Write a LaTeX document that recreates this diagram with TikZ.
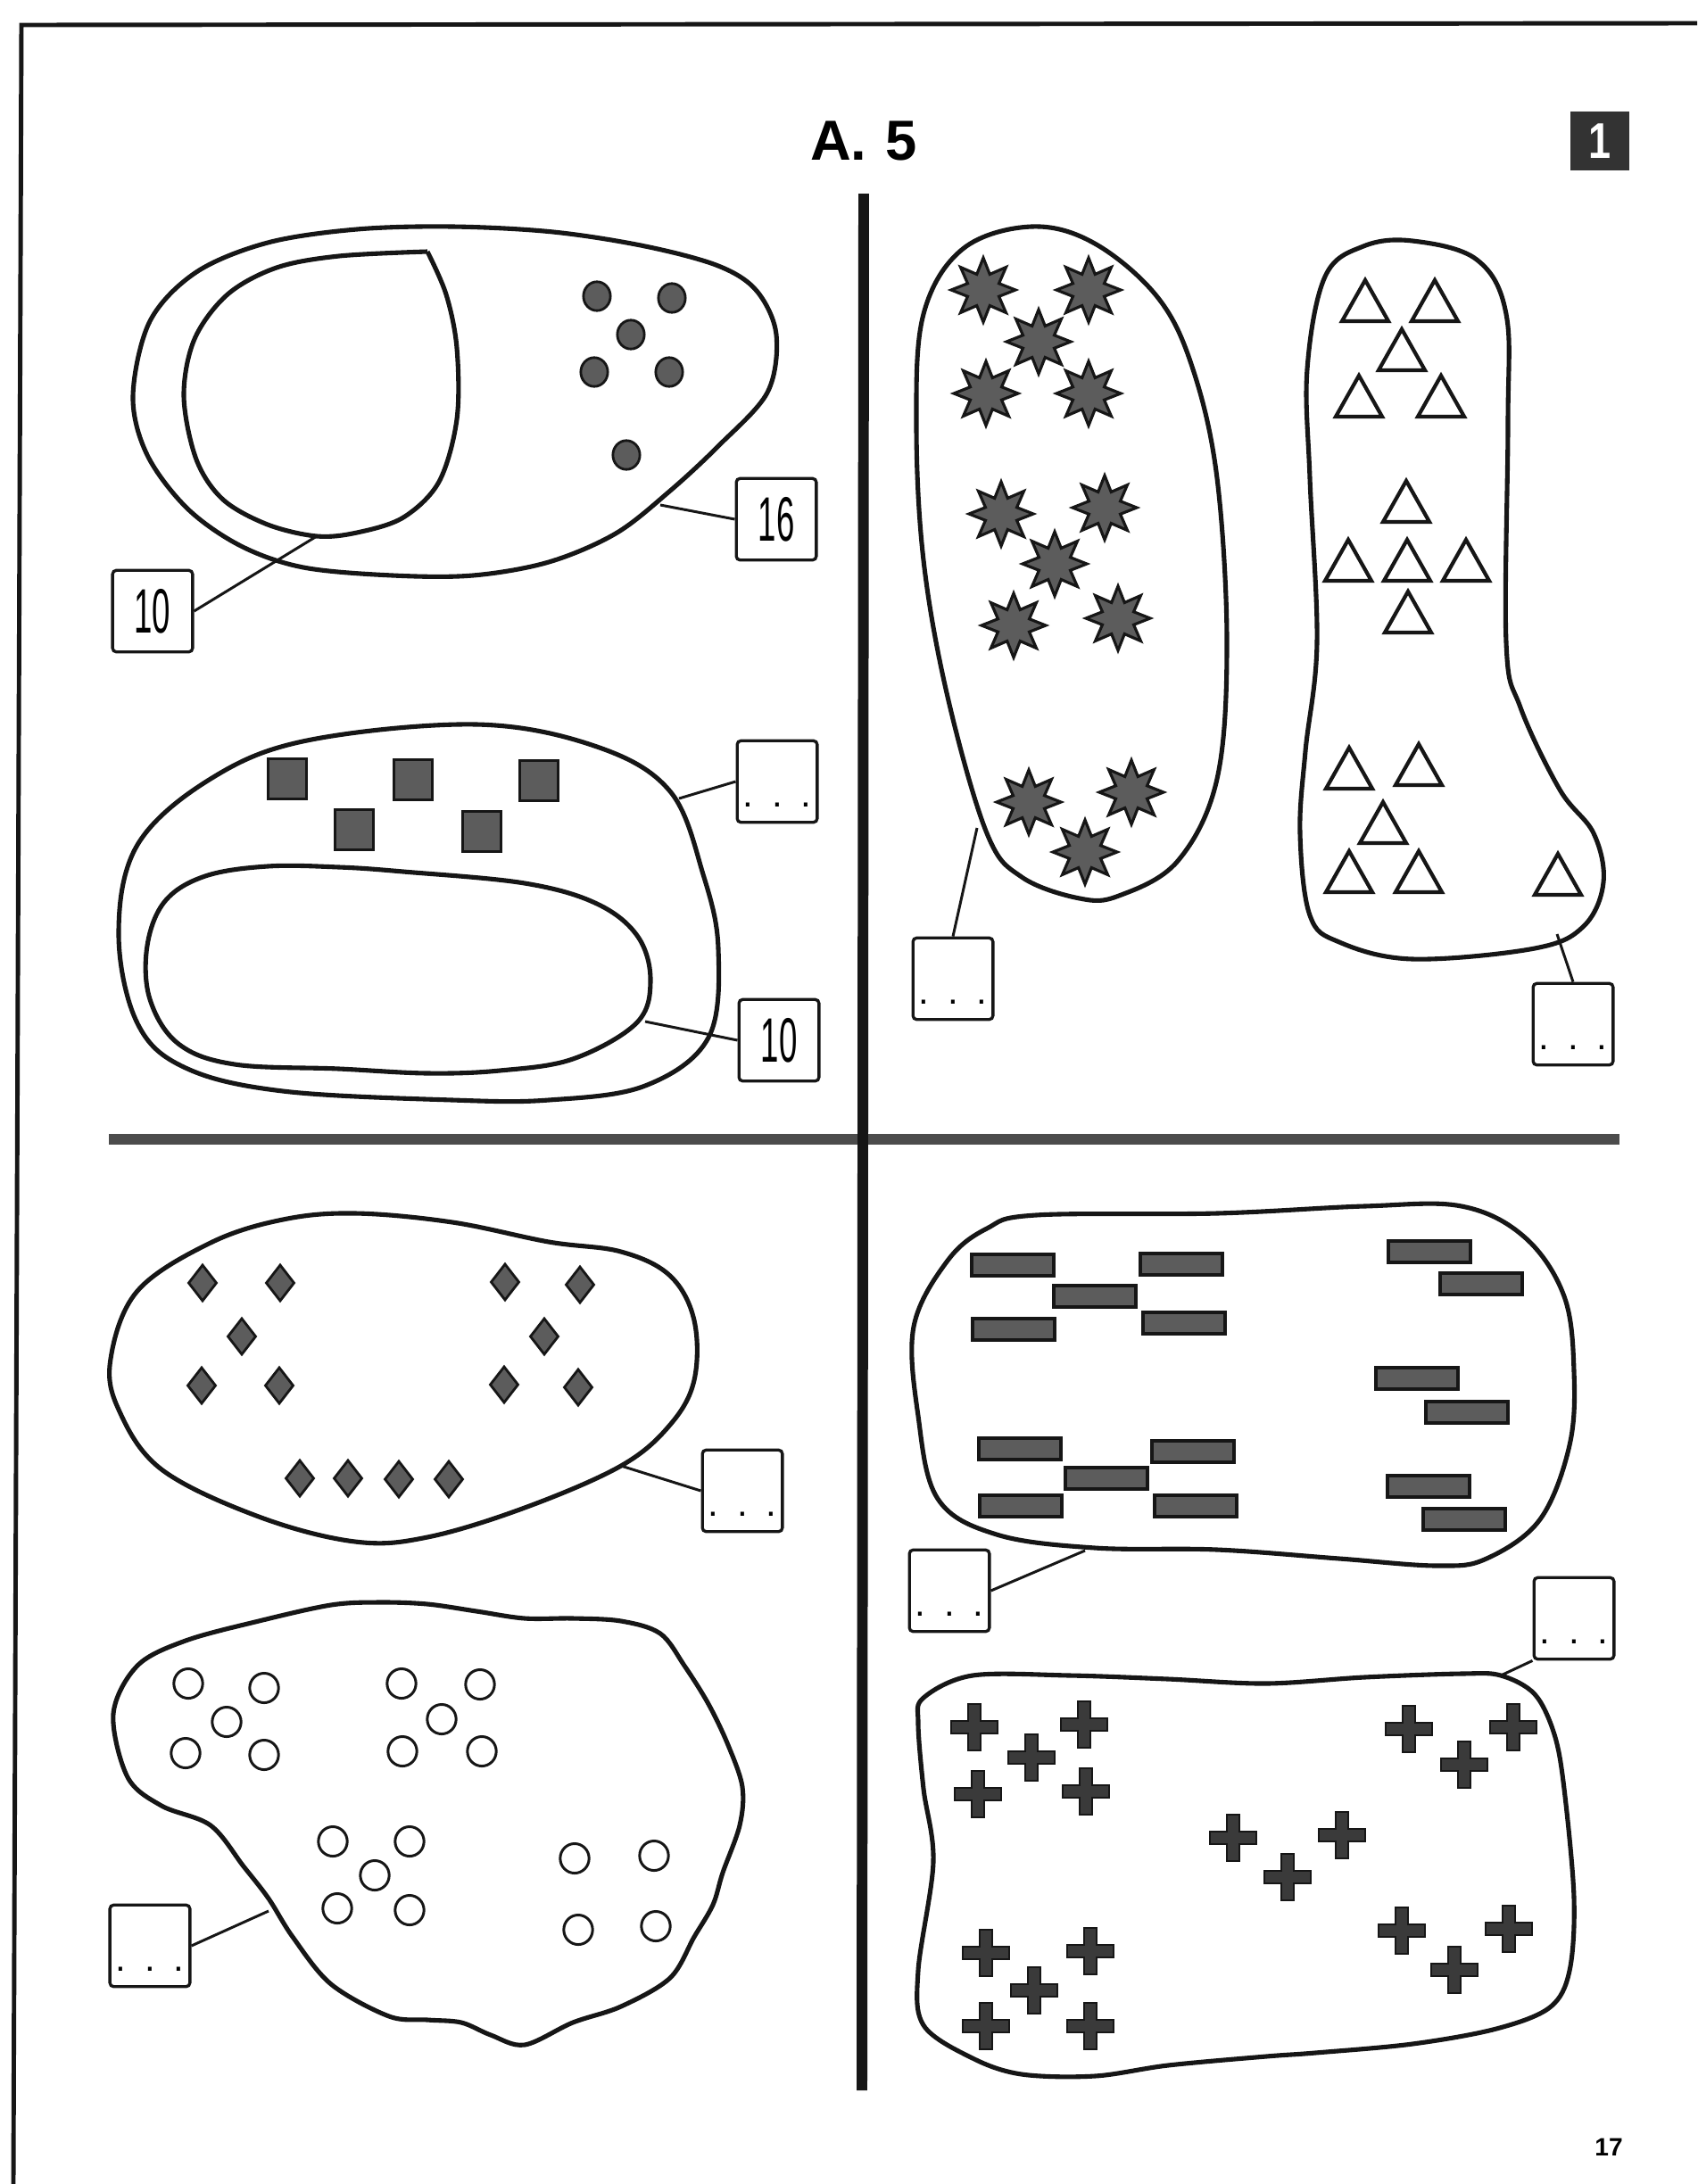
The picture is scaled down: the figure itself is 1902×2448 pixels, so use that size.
\documentclass[tikz,border=0pt]{standalone}
\usepackage{fontspec}
\setmainfont{Liberation Sans}
\usepackage{graphicx}
\definecolor{ink}{RGB}{22,22,22}
\definecolor{shade}{RGB}{92,92,92}
\definecolor{darkshade}{RGB}{58,58,58}
\tikzset{
  blob/.style={draw=ink,line width=1.45pt,line join=round},
  ansbox/.style={draw=ink,line width=0.95pt,rounded corners=1.2pt,minimum width=25.5pt,minimum height=26pt,inner sep=0pt},
  dotsbox/.style={ansbox,font=\fontsize{12}{12}\selectfont,text height=16pt,text depth=0pt},
  leader/.style={draw=ink,line width=0.85pt},
  star8/.pic={\draw[fill=shade,draw=ink,line width=0.9pt,line join=miter] (0:36) \foreach \a in {0,45,...,315}{ -- (\a:36) -- ({\a+22.5}:19)} -- cycle;},
  tri/.pic={\draw[draw=ink,line width=1.2pt,line join=miter] (0,-23) -- (26,23) -- (-26,23) -- cycle;},
  diam/.pic={\draw[fill=shade,draw=ink,line width=0.8pt,line join=miter] (0,-20) -- (15.5,0) -- (0,20) -- (-15.5,0) -- cycle;},
  plus/.pic={\draw[fill=darkshade,draw=ink,line width=0.8pt,line join=miter] (-7,-26) -- (7,-26) -- (7,-7) -- (26,-7) -- (26,7) -- (7,7) -- (7,26) -- (-7,26) -- (-7,7) -- (-26,7) -- (-26,-7) -- (-7,-7) -- cycle;},
  sqr/.pic={\draw[fill=shade,draw=ink,line width=0.9pt] (-21.5,-22.5) rectangle (21.5,22.5);},
  bar/.pic={\draw[fill=shade,draw=ink,line width=0.9pt] (-46,-12) rectangle (46,12);},
  dot/.pic={\draw[fill=shade,draw=ink,line width=0.8pt] (0,0) circle[x radius=4.3pt,y radius=4.6pt];},
  ring/.pic={\draw[draw=ink,line width=0.85pt] (0,0) circle[x radius=4.6pt,y radius=4.7pt];},
}
\newcommand{\narrownum}[1]{\scalebox{0.52}[1]{\fontsize{20}{22}\selectfont #1}}
\begin{document}
\begin{tikzpicture}[x=0.01cm,y=-0.01cm]
\useasboundingbox (0,0) rectangle (1902,2448);
\fill[white] (0,0) rectangle (1902,2448);

% frame and dividers
\coordinate (ftl) at (24,28);
\coordinate (ftr) at (1902,26);
\coordinate (fbl) at (15,2448);
\draw[draw=ink,line width=1.4pt] (ftr) -- (ftl) -- (fbl);
\coordinate (vt) at (968,217);
\coordinate (vb) at (966,2343);
\coordinate (hl) at (122,1277);
\coordinate (hr) at (1815,1277);
\draw[draw=black!70,line width=3.4pt] (hl) -- (hr);
\draw[draw=ink,line width=3.4pt] (vt) -- (vb);

% headings
\node[font=\bfseries\fontsize{18}{20}\selectfont,inner sep=0pt] (title) at (968,158) {A.\,\,5};
\node[fill=black!80,text=white,font=\bfseries\fontsize{16}{16}\selectfont,minimum width=18.5pt,minimum height=19pt,inner sep=0pt] (sheet) at (1793,158) {\scalebox{0.8}[1]{1}};
\node[font=\bfseries\fontsize{8}{8}\selectfont,inner sep=0pt] (pageno) at (1803,2407) {17};

% ---------- panel 1 ----------
\draw[blob] plot[smooth cycle,tension=0.55] coordinates {(149,444) (168,360) (220,305) (300,272) (400,257) (507,254) (620,260) (723,276) (805,298) (848,326) (870,375) (860,440) (805,500) (750,551) (690,598) (615,630) (530,645) (440,645) (340,636) (270,612) (210,570) (165,510)};
\draw[blob] plot[smooth,tension=0.55] coordinates {(479,282) (500,330) (512,390) (512,470) (492,540) (452,580) (400,597) (355,601) (300,588) (250,560) (220,515) (206,444) (218,380) (255,330) (310,300) (380,287) (479,282)};
\foreach \p in {(669,332),(753,334),(707,375),(666,417),(750,417),(702,510)} \pic at \p {dot};
\node[ansbox] (b1a) at (171,685) {\narrownum{10}};
\node[ansbox] (b1b) at (870,582) {\narrownum{16}};
\coordinate (c1a) at (355,601);
\coordinate (c1b) at (740,566);
\draw[leader] (b1a.east) -- (c1a);
\draw[leader] (b1b.west) -- (c1b);

% ---------- panel 2 ----------
\draw[blob] plot[smooth cycle,tension=0.6] coordinates {(534,812) (669,837) (751,887) (788,980) (805,1063) (794,1163) (723,1217) (615,1233) (507,1233) (317,1223) (208,1197) (154,1147) (133,1047) (154,947) (236,873) (344,830)};
\draw[blob] plot[smooth cycle,tension=0.6] coordinates {(300,971) (380,972) (452,977) (588,990) (669,1013) (715,1050) (729,1100) (713,1147) (642,1187) (560,1200) (479,1203) (380,1198) (263,1193) (200,1170) (168,1120) (165,1060) (185,1010) (230,982)};
\foreach \p in {(322,873),(463,874),(604,875),(397,930),(540,932)} \pic at \p {sqr};
\node[dotsbox] (b2a) at (871,876) {.\hspace{6pt}.\hspace{6pt}.};
\node[ansbox] (b2b) at (873,1166) {\narrownum{10}};
\coordinate (c2a) at (761,895);
\coordinate (c2b) at (723,1145);
\draw[leader] (b2a.west) -- (c2a);
\draw[leader] (b2b.west) -- (c2b);

% ---------- panel 3 ----------
\draw[blob] plot[smooth cycle,tension=0.6] coordinates {(1156,254) (1227,273) (1298,334) (1337,414) (1364,536) (1375,720) (1364,873) (1320,965) (1254,1004) (1210,1007) (1145,983) (1106,934) (1062,781) (1035,628) (1027,475) (1035,352) (1079,279)};
\foreach \p in {(1102,325),(1220,325),(1164,383),(1105,441),(1220,441),(1122,576),(1238,569),(1182,632),(1136,701),(1253,693),(1153,899),(1268,888),(1216,955)} \pic at \p {star8};
\draw[blob] plot[smooth cycle,tension=0.6] coordinates {(1583,270) (1655,291) (1688,352) (1690,475) (1688,720) (1704,793) (1748,885) (1786,934) (1797,989) (1775,1038) (1720,1063) (1583,1075) (1501,1056) (1468,1026) (1457,934) (1463,842) (1476,720) (1468,536) (1465,414) (1485,310) (1528,276)};
\foreach \p in {(1530,337),(1608,337),(1571,392),(1523,444),(1615,444),(1576,562),(1511,628),(1577,628),(1643,628),(1578,686),(1512,861),(1590,857),(1550,922),(1512,977),(1590,977),(1746,980)} \pic at \p {tri};
\node[dotsbox] (b3a) at (1068,1097) {.\hspace{6pt}.\hspace{6pt}.};
\node[dotsbox] (b3b) at (1763,1148) {.\hspace{6pt}.\hspace{6pt}.};
\coordinate (c3a) at (1095,928);
\coordinate (c3b) at (1745,1047);
\draw[leader] (b3a.north) -- (c3a);
\draw[leader] (b3b.north) -- (c3b);

% ---------- panel 4 ----------
\draw[blob] plot[smooth cycle,tension=0.6] coordinates {(398,1360) (507,1370) (615,1392) (696,1403) (751,1430) (778,1480) (778,1547) (751,1597) (696,1643) (588,1690) (479,1723) (398,1728) (290,1700) (181,1647) (133,1580) (124,1523) (154,1447) (236,1393) (317,1367)};
\foreach \p in {(227,1438),(314,1438),(566,1437),(650,1440),(271,1498),(610,1498),(226,1553),(313,1553),(565,1552),(648,1555),(336,1657),(390,1657),(447,1658),(503,1658)} \pic at \p {diam};
\node[dotsbox] (b4) at (832,1671) {.\hspace{6pt}.\hspace{6pt}.};
\coordinate (c4) at (696,1643);
\draw[leader] (b4.west) -- (c4);

% ---------- panel 6 ----------
\draw[blob] plot[smooth cycle,tension=0.6] coordinates {(1161,1362) (1364,1360) (1529,1352) (1638,1352) (1709,1387) (1753,1453) (1764,1537) (1759,1620) (1726,1703) (1666,1747) (1611,1755) (1501,1747) (1364,1737) (1227,1735) (1117,1720) (1051,1680) (1029,1587) (1024,1487) (1062,1413) (1106,1377)};
\foreach \p in {(1135,1418),(1324,1417),(1227,1453),(1136,1490),(1327,1483),(1602,1403),(1660,1439),(1588,1545),(1644,1583),(1143,1624),(1337,1627),(1240,1657),(1144,1688),(1340,1688),(1601,1666),(1641,1703)} \pic at \p {bar};
\node[dotsbox] (b6) at (1064,1783) {.\hspace{6pt}.\hspace{6pt}.};
\coordinate (c6) at (1216,1738);
\draw[leader] (b6.east) -- (c6);

% ---------- panel 7 ----------
\draw[blob] plot[smooth cycle,tension=0.55] coordinates {(127,1921) (154,1867) (208,1839) (290,1817) (371,1799) (425,1796) (479,1798) (534,1806) (588,1814) (642,1814) (696,1817) (740,1831) (767,1867) (794,1910) (816,1956) (832,2003) (829,2046) (810,2099) (799,2135) (778,2171) (751,2217) (696,2249) (642,2267) (588,2292) (550,2281) (517,2267) (479,2264) (436,2260) (371,2224) (328,2171) (301,2128) (273,2092) (236,2046) (181,2024) (143,1992)};
\foreach \p in {(211,1887),(296,1892),(254,1930),(208,1965),(296,1967),(450,1887),(538,1888),(495,1927),(451,1963),(540,1963),(373,2064),(459,2064),(420,2102),(378,2139),(459,2141),(644,2083),(733,2080),(648,2163),(735,2159)} \pic at \p {ring};
\node[dotsbox] (b7) at (168,2181) {.\hspace{6pt}.\hspace{6pt}.};
\coordinate (c7) at (301,2142);
\draw[leader] (b7.east) -- (c7);

% ---------- panel 8 ----------
\draw[blob] plot[smooth cycle,tension=0.55] coordinates {(1035,1903) (1090,1878) (1199,1878) (1309,1882) (1419,1887) (1529,1880) (1638,1876) (1682,1878) (1720,1899) (1742,1944) (1753,2005) (1764,2127) (1759,2209) (1737,2250) (1677,2274) (1583,2291) (1474,2301) (1419,2305) (1309,2315) (1227,2327) (1145,2325) (1090,2307) (1035,2270) (1029,2209) (1046,2087) (1035,2005) (1029,1931)};
\foreach \p in {(1092,1936),(1215,1933),(1156,1970),(1096,2011),(1217,2008),(1579,1938),(1696,1936),(1641,1978),(1382,2060),(1504,2057),(1443,2104),(1105,2189),(1222,2187),(1159,2231),(1105,2271),(1222,2271),(1571,2164),(1691,2162),(1630,2208)} \pic at \p {plus};
\node[dotsbox] (b8) at (1764,1814) {.\hspace{6pt}.\hspace{6pt}.};
\coordinate (c8) at (1682,1878);
\draw[leader] (b8.south west) -- (c8);
\end{tikzpicture}
\end{document}
